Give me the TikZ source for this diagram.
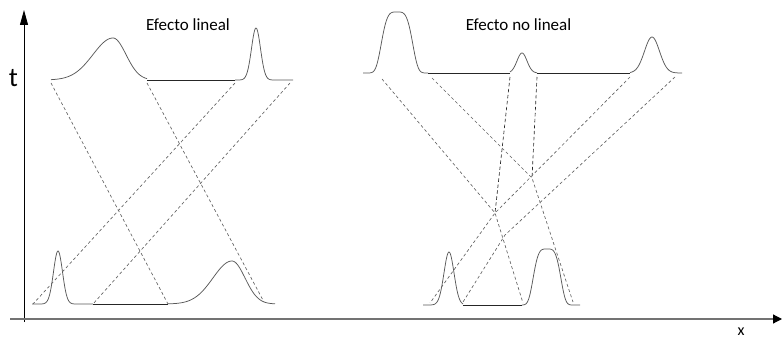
\documentclass[tikz,border=0pt]{standalone}
\usepackage{fontspec}
\setmainfont{Carlito}
\usetikzlibrary{arrows.meta}
\begin{document}
\begin{tikzpicture}[x=1pt,y=-1pt,
  declare function={g(\t,\c,\s)=exp(-0.5*((\t-\c)/\s)*((\t-\c)/\s));
                     sg(\t,\c,\w)=exp(-(((\t-\c)/\w)*((\t-\c)/\w))*(((\t-\c)/\w)*((\t-\c)/\w)));},
  curve/.style={draw=black!65, line width=0.75pt},
  flat/.style={draw=black!85, line width=0.85pt},
  traj/.style={draw=black!62, line width=0.65pt, dash pattern=on 3pt off 2.5pt},
  vtraj/.style={draw=black!85, line width=0.65pt, dash pattern=on 3.5pt off 2.5pt},
  lbl/.style={inner sep=0pt, anchor=base}]
\useasboundingbox (0,0) rectangle (782,339);

% axes
\coordinate (yb) at (24,322);
\coordinate (yt) at (24,10);
\coordinate (xl) at (10,319);
\coordinate (xr) at (782,319);
\draw[line width=0.9pt,-{Triangle[length=15pt,width=8pt]}] (yb) -- (yt);
\draw[line width=1.2pt,draw=black!55,-{Triangle[length=9pt,width=9pt,color=black]}] (xl) -- (xr);
\node[lbl,font=\fontsize{27}{27}\selectfont] (tlab) at (13.5,87) {t};
\node[lbl,font=\fontsize{16}{16}\selectfont] (xlab) at (741,335.5) {x};

% titles
\node[lbl,font=\fontsize{17}{17}\selectfont] (title1) at (188,30.5) {Efecto lineal};
\node[lbl,font=\fontsize{17}{17}\selectfont] (title2) at (518.5,30.5) {Efecto no lineal};

% ---------- linear: top (t) ----------
\draw[curve] plot[domain=51:113,samples=50] (\x,{80-42*g(\x,113,20)});
\draw[curve] plot[domain=113:147,samples=40] (\x,{80-42*g(\x,113,13)});
\draw[flat] (147,80) -- (235,80);
\draw[curve] plot[domain=235:293,samples=90] (\x,{80-52*g(\x,256,4.5)});

% ---------- linear: bottom ----------
\draw[curve] plot[domain=32:93,samples=90] (\x,{304-53*g(\x,58,4.5)});
\draw[flat] (93,304) -- (168,304);
\draw[curve] plot[domain=168:232,samples=50] (\x,{304-43*g(\x,232,19)});
\draw[curve] plot[domain=232:275,samples=40] (\x,{304-43*g(\x,232,13)});

% linear trajectories
\coordinate (A1) at (51,83);
\coordinate (A2) at (147,83);
\coordinate (A3) at (235,83);
\coordinate (A4) at (290,83);
\coordinate (B1) at (33,304);
\coordinate (B2) at (93,304);
\coordinate (B3) at (168,304);
\coordinate (B4) at (264,302);
\draw[traj] (A1) -- (B3);
\draw[traj] (A2) -- (B4);
\draw[traj] (A3) -- (B1);
\draw[traj] (A4) -- (B2);

% ---------- nonlinear: top ----------
\draw[curve] plot[domain=363:428,samples=80] (\x,{73-61*sg(\x,397,17)});
\draw[flat] (428,73) -- (510,73);
\draw[curve] plot[domain=510:537,samples=40] (\x,{73-20*g(\x,522,5)});
\draw[flat] (537,73) -- (630,73);
\draw[curve] plot[domain=630:682,samples=60] (\x,{73-36*g(\x,652,7.5)});

% ---------- nonlinear: bottom ----------
\draw[curve] plot[domain=423:463,samples=70] (\x,{305-53*g(\x,449,5)});
\draw[flat] (463,305) -- (522,305);
\draw[curve] plot[domain=522:580,samples=80] (\x,{305-56*sg(\x,547,15)});

% nonlinear trajectories
\coordinate (T1) at (382,79);
\coordinate (T2) at (432,78);
\coordinate (T3) at (510,77);
\coordinate (T4) at (537,77);
\coordinate (T5) at (630,77);
\coordinate (T6) at (675,77);
\coordinate (K1) at (495,213);
\coordinate (K2) at (532,178);
\coordinate (K3) at (505,235);
\coordinate (R1) at (430,303);
\coordinate (R2) at (463,302);
\coordinate (R3) at (523,303);
\coordinate (R4) at (573,302);
\draw[traj] (T1) -- (K1) -- (R3);
\draw[vtraj] (T3) -- (K1);
\draw[traj] (T2) -- (K2) -- (R4);
\draw[vtraj] (T4) -- (K2);
\draw[traj] (T5) -- (K1) -- (R1);
\draw[traj] (T6) -- (K3) -- (R2);
\end{tikzpicture}
\end{document}
